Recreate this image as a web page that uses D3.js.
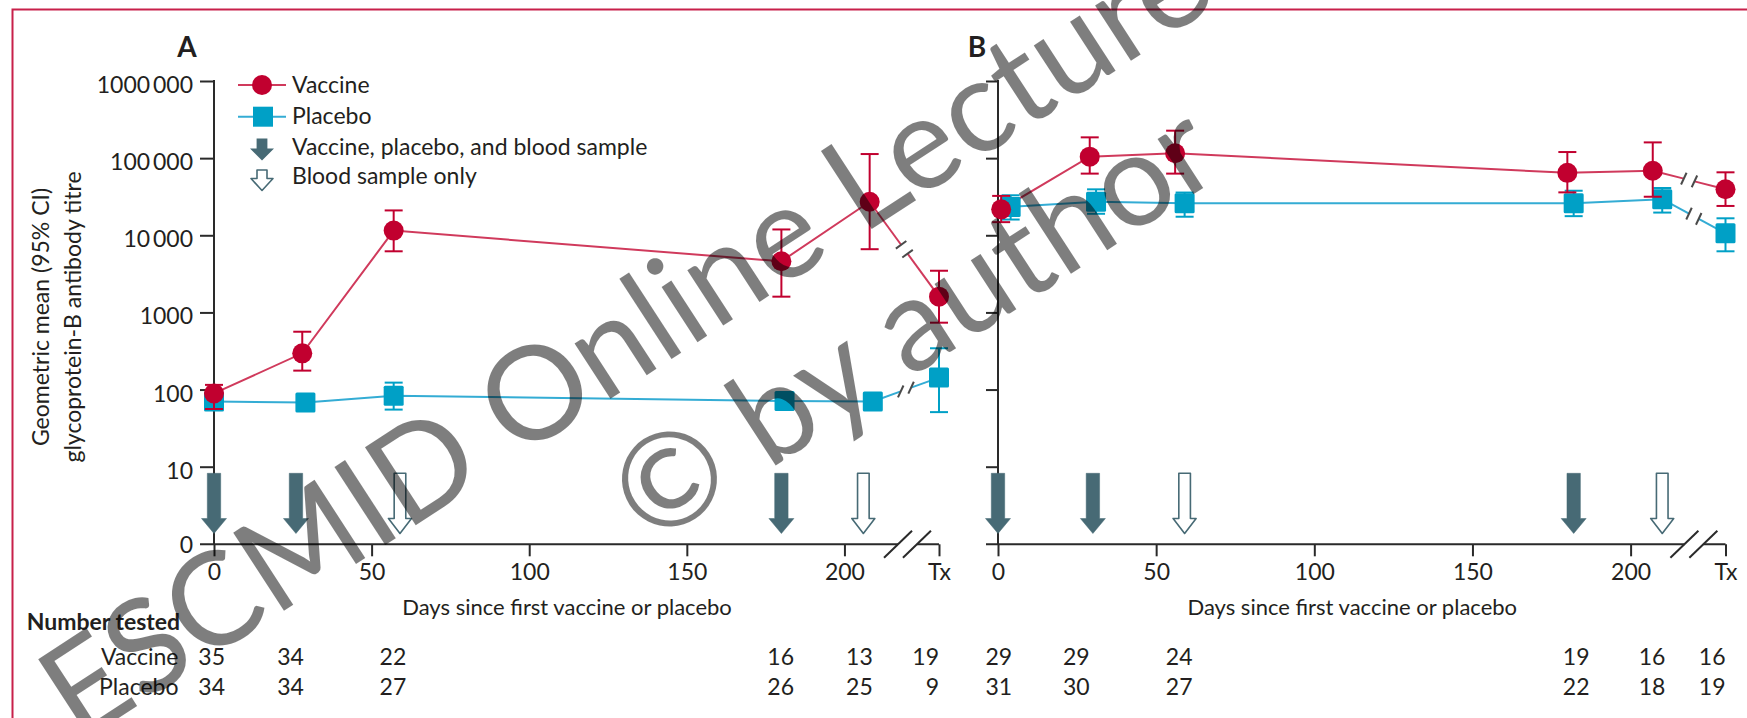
<!DOCTYPE html>
<html><head><meta charset="utf-8">
<script src="https://cdn.jsdelivr.net/npm/d3@7"></script>
<style>
html,body{margin:0;padding:0;background:#fff;}
svg text{font-family:Lato,"Open Sans",sans-serif;fill:#231f20;}
</style></head><body>
<svg id="c" width="1747" height="718"></svg>
<script>
// ---------- data ----------
const txDay = 230;                       // position of the "Tx" column on the day axis
const xTickValues = [0, 50, 100, 150, 200, 230];
const xTickLabels = ["0", "50", "100", "150", "200", "Tx"];
const yTickValues = [10, 100, 1000, 10000, 100000, 1000000];
const yTickLabels = ["10", "100", "1000", "10\u2009000", "100\u2009000", "1000\u2009000"];

// Panel A
const vacDaysA = [0, 28, 57, 180, 208, "Tx"];
const vacGmtA  = [89, 295, 11500, 4600, 27200, 1600];
const vacLoA   = [56, 176, 6200, 1600, 6600, 736];
const vacHiA   = [115, 562, 21000, 11900, 113000, 3470];
const plaDaysA = [0, 29, 57, 181, 209, "Tx"];
const plaGmtA  = [70, 68, 83, 71, 70, 143];
const plaLoA   = [60, 60, 55, 63, 62, 51];
const plaHiA   = [82, 77, 123, 80, 79, 343];
const arrowDaysA = [0, 26, 59, 180, 206];
const arrowTypeA = ["dose", "dose", "blood", "dose", "blood"];
const countVacA = ["35", "34", "22", "16", "13", "19"];
const countPlaA = ["34", "34", "27", "26", "25", "9"];
const countColsA = [3.5, 28.5, 61, 184, 209, 230];

// Panel B
const vacDaysB = [1, 29, 56, 180, 207, "Tx"];
const vacGmtB  = [21700, 104500, 115700, 64500, 68700, 39500];
const vacLoB   = [14800, 63000, 63000, 36000, 31600, 24000];
const vacHiB   = [32400, 186000, 227000, 120000, 160000, 65500];
const plaDaysB = [4, 31, 59, 182, 210, "Tx"];
const plaGmtB  = [23300, 27200, 26000, 26000, 29400, 10600];
const plaLoB   = [16000, 19000, 17400, 17700, 19700, 6200];
const plaHiB   = [33000, 39400, 35800, 37800, 41000, 16600];
const arrowDaysB = [0, 30, 59, 182, 210];
const arrowTypeB = ["dose", "dose", "blood", "dose", "blood"];
const countVacB = ["29", "29", "24", "19", "16", "16"];
const countPlaB = ["31", "30", "27", "22", "18", "19"];
const countColsB = [4.5, 29, 61.5, 187, 211, 230];

const breakDays = [217, 223];
const legendLabels = ["Vaccine", "Placebo", "Vaccine, placebo, and blood sample", "Blood sample only"];
const xTitle = "Days since first vaccine or placebo";
const yTitle = ["Geometric mean (95% CI)", "glycoprotein-B antibody titre"];
const tableTitle = "Number tested";
const rowLabels = ["Vaccine", "Placebo"];
const watermark = ["ESCMID Online Lecture Library", "\u00A9 by author"];

// ---------- style ----------
const RED = "#c1002f", RED_LINE = "#d03a5c";
const BLUE = "#00a0c6", BLUE_LINE = "#34acd4";
const ARROW = "#476a75";
const AXIS = "#2a2a2a";
const FS = 23;

const svg = d3.select("#c");

// frame
svg.append("path").attr("d", "M12.5,718V9.5H1747").attr("fill", "none")
  .attr("stroke", "#c8204a").attr("stroke-width", 2);

const zeroY = 544.3;
const y = d3.scaleLog().domain([10, 1e6]).range([466.7, 81]);

const panels = [
  {key: "A", range: [214, 939], labels: true, tick: 14,
   vac: [vacDaysA, vacGmtA, vacLoA, vacHiA], pla: [plaDaysA, plaGmtA, plaLoA, plaHiA],
   arrows: [arrowDaysA, arrowTypeA], counts: [countVacA, countPlaA, countColsA], letterDx: -27},
  {key: "B", range: [998, 1725.5], labels: false, tick: 12,
   vac: [vacDaysB, vacGmtB, vacLoB, vacHiB], pla: [plaDaysB, plaGmtB, plaLoB, plaHiB],
   arrows: [arrowDaysB, arrowTypeB], counts: [countVacB, countPlaB, countColsB], letterDx: -21}
];

function arrowPath(cx, top, headY, tip, sw, hw) {
  return `M${cx - sw},${top}H${cx + sw}V${headY}H${cx + hw}L${cx},${tip}L${cx - hw},${headY}H${cx - sw}Z`;
}

function drawSeries(g, x, s, lineColor) {
  const [days, gmt, lo, hi] = s;
  const pts = days.map((d, i) => ({
    x: x(d === "Tx" ? txDay : d), y: y(gmt[i]), lo: y(lo[i]), hi: y(hi[i])
  }));
  const main = pts.slice(0, pts.length - 1);
  g.append("path").datum(main)
    .attr("d", d3.line().x(d => d.x).y(d => d.y))
    .attr("fill", "none").attr("stroke", lineColor).attr("stroke-width", 2);
  // broken segment to Tx
  const p = pts[pts.length - 2], q = pts[pts.length - 1];
  const dx = q.x - p.x, dy = q.y - p.y, L = Math.hypot(dx, dy), ux = dx / L, uy = dy / L;
  const mx = (p.x + q.x) / 2, my = (p.y + q.y) / 2, gap = 5.5;
  g.append("line").attr("x1", p.x).attr("y1", p.y).attr("x2", mx - ux * gap).attr("y2", my - uy * gap)
    .attr("stroke", lineColor).attr("stroke-width", 2);
  g.append("line").attr("x1", mx + ux * gap).attr("y1", my + uy * gap).attr("x2", q.x).attr("y2", q.y)
    .attr("stroke", lineColor).attr("stroke-width", 2);
  const ang = Math.atan2(dy, dx) * 180 / Math.PI;
  const markAng = (ang > 30 ? ang - 90 : -65) * Math.PI / 180;
  [-gap, gap].forEach(o => {
    const cx = mx + ux * o, cy = my + uy * o, h = 6.5;
    g.append("line")
      .attr("x1", cx - Math.cos(markAng) * h).attr("y1", cy - Math.sin(markAng) * h)
      .attr("x2", cx + Math.cos(markAng) * h).attr("y2", cy + Math.sin(markAng) * h)
      .attr("stroke", "#4a4a4a").attr("stroke-width", 2);
  });
  return pts;
}

function drawMarks(g, pts, color, marker) {
  pts.forEach(d => {
    g.append("line").attr("x1", d.x).attr("x2", d.x).attr("y1", d.lo).attr("y2", d.hi)
      .attr("stroke", color).attr("stroke-width", 2);
    [d.lo, d.hi].forEach(yy => g.append("line").attr("x1", d.x - 9).attr("x2", d.x + 9)
      .attr("y1", yy).attr("y2", yy).attr("stroke", color).attr("stroke-width", 2));
    if (marker === "circle") {
      g.append("circle").attr("cx", d.x).attr("cy", d.y).attr("r", 10).attr("fill", color);
    } else {
      g.append("rect").attr("x", d.x - 10).attr("y", d.y - 10).attr("width", 20).attr("height", 20)
        .attr("rx", 1.5).attr("fill", color);
    }
  });
}

panels.forEach(P => {
  const x = d3.scaleLinear().domain([0, txDay]).range(P.range);
  const g = svg.append("g");
  const x0 = x(0);

  // panel letter
  g.append("text").attr("x", x0 + P.letterDx).attr("y", 56.5).attr("text-anchor", "middle")
    .attr("font-size", 28).attr("font-weight", 700).text(P.key);

  // y axis
  const yAxis = d3.axisLeft(y).tickValues(yTickValues)
    .tickFormat((d, i) => P.labels ? yTickLabels[i] : "")
    .tickSize(P.tick).tickPadding(7);
  const ya = g.append("g").attr("transform", `translate(${x0},0)`).call(yAxis);
  ya.select(".domain").remove();
  ya.selectAll(".tick line").attr("stroke", AXIS).attr("stroke-width", 2);
  ya.selectAll(".tick text").attr("font-size", FS).attr("dy", "0.5em")
    .attr("font-family", "Lato, 'Open Sans', sans-serif").attr("fill", "#231f20");
  g.append("line").attr("x1", x0).attr("x2", x0).attr("y1", y(1e6) - 1).attr("y2", zeroY)
    .attr("stroke", AXIS).attr("stroke-width", 2);
  if (P.labels) {
    g.append("text").attr("x", x0 - P.tick - 7).attr("y", zeroY).attr("dy", "0.38em")
      .attr("text-anchor", "end").attr("font-size", FS).text("0");
  }

  // x axis
  const xAxis = d3.axisBottom(x).tickValues(xTickValues)
    .tickFormat((d, i) => xTickLabels[i]).tickSize(12).tickPadding(7);
  const xa = g.append("g").attr("transform", `translate(0,${zeroY})`).call(xAxis);
  xa.select(".domain").remove();
  xa.selectAll(".tick line").attr("stroke", AXIS).attr("stroke-width", 2);
  xa.selectAll(".tick text").attr("font-size", FS)
    .attr("font-family", "Lato, 'Open Sans', sans-serif").attr("fill", "#231f20");
  const b1 = x(breakDays[0]), b2 = x(breakDays[1]);
  g.append("path").attr("d", `M${x0 - P.tick},${zeroY}H${b1}M${b2},${zeroY}H${x(txDay)}`)
    .attr("stroke", AXIS).attr("stroke-width", 2).attr("fill", "none");
  [b1, b2].forEach(bx => g.append("line")
    .attr("x1", bx - 14).attr("y1", zeroY + 13.5).attr("x2", bx + 14).attr("y2", zeroY - 13.5)
    .attr("stroke", AXIS).attr("stroke-width", 2));

  // x title
  g.append("text").attr("x", x(112)).attr("y", 615).attr("text-anchor", "middle")
    .attr("font-size", 22).text(xTitle);

  // arrows
  const [aDays, aType] = P.arrows;
  aDays.forEach((d, i) => {
    const filled = aType[i] === "dose";
    g.append("path").attr("d", arrowPath(x(d), 473.3, 518.5, 533.5, filled ? 6.7 : 5.8, filled ? 12.5 : 11.5))
      .attr("fill", filled ? ARROW : "#fff").attr("stroke", ARROW)
      .attr("stroke-width", filled ? 0.5 : 1.6).attr("stroke-linejoin", "round");
  });

  // series
  const gl = g.append("g"), gm = g.append("g");
  const plaPts = drawSeries(gl, x, P.pla, BLUE_LINE);
  const vacPts = drawSeries(gl, x, P.vac, RED_LINE);
  drawMarks(gm, plaPts, BLUE, "square");
  drawMarks(gm, vacPts, RED, "circle");

  // counts table
  const [cv, cp, cols] = P.counts;
  cols.forEach((c, i) => {
    g.append("text").attr("x", x(c)).attr("y", 665).attr("text-anchor", "end").attr("font-size", FS).text(cv[i]);
    g.append("text").attr("x", x(c)).attr("y", 695).attr("text-anchor", "end").attr("font-size", FS).text(cp[i]);
  });
});

// y title
const yt = svg.append("g").attr("transform", "translate(49,317) rotate(-90)");
yt.append("text").attr("text-anchor", "middle").attr("font-size", FS).text(yTitle[0]);
yt.append("text").attr("y", 32).attr("text-anchor", "middle").attr("font-size", FS).text(yTitle[1]);

// table labels
svg.append("text").attr("x", 26.7).attr("y", 630).attr("font-size", FS).attr("font-weight", 700).text(tableTitle);
svg.append("text").attr("x", 178.5).attr("y", 665).attr("text-anchor", "end").attr("font-size", FS).text(rowLabels[0]);
svg.append("text").attr("x", 178.5).attr("y", 695).attr("text-anchor", "end").attr("font-size", FS).text(rowLabels[1]);

// legend
const lg = svg.append("g");
const lx = 262, tx = 292;
lg.append("line").attr("x1", 238).attr("x2", 286).attr("y1", 85).attr("y2", 85).attr("stroke", RED_LINE).attr("stroke-width", 2);
lg.append("circle").attr("cx", lx).attr("cy", 85).attr("r", 10).attr("fill", RED);
lg.append("line").attr("x1", 238).attr("x2", 286).attr("y1", 116.7).attr("y2", 116.7).attr("stroke", BLUE_LINE).attr("stroke-width", 2);
lg.append("rect").attr("x", lx - 9).attr("y", 106.7).attr("width", 20).attr("height", 20).attr("fill", BLUE);
lg.append("path").attr("d", arrowPath(lx, 138.5, 148.5, 160.5, 5.4, 12)).attr("fill", ARROW);
lg.append("path").attr("d", arrowPath(lx, 170, 178.5, 190.5, 5, 11)).attr("fill", "#fff")
  .attr("stroke", ARROW).attr("stroke-width", 1.6).attr("stroke-linejoin", "round");
[93.3, 123.5, 155, 184].forEach((yy, i) =>
  lg.append("text").attr("x", tx).attr("y", yy).attr("font-size", FS).text(legendLabels[i]));

// watermark
const wm = svg.append("g").attr("transform", "translate(863,234.7) rotate(-33)")
  .attr("opacity", 0.5);
wm.append("text").attr("x", -41).attr("y", 0).attr("text-anchor", "middle")
  .attr("font-family", "'Liberation Sans', Arial, sans-serif").attr("font-size", 130)
  .style("fill", "#000").text(watermark[0]);
wm.append("text").attr("x", -6).attr("y", 146).attr("text-anchor", "middle")
  .attr("font-family", "'Liberation Sans', Arial, sans-serif").attr("font-size", 130)
  .style("fill", "#000").text(watermark[1]);
</script>
</body></html>
